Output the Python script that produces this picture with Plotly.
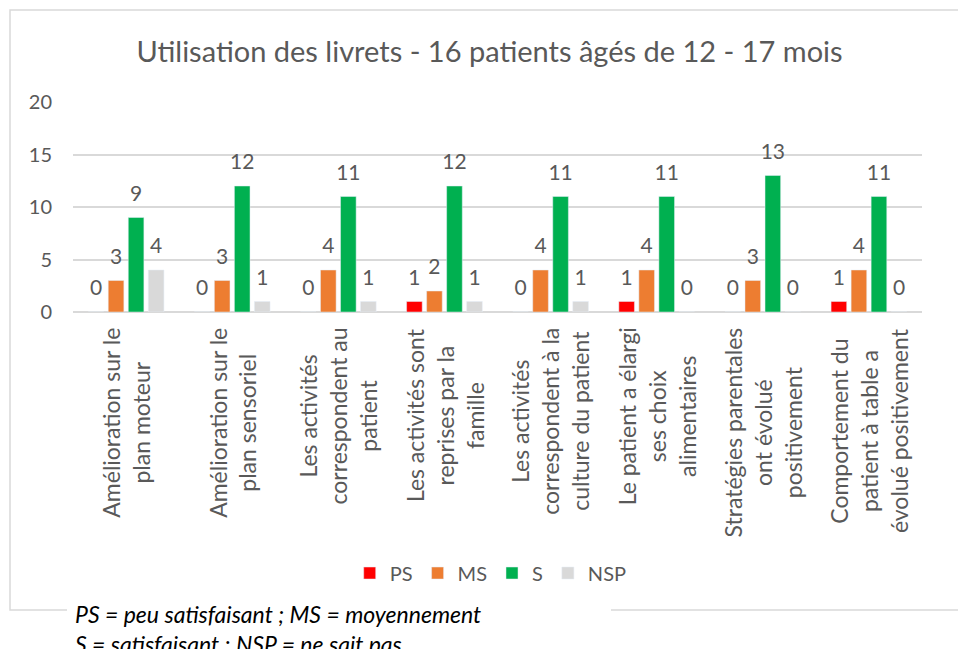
import plotly.graph_objects as go

categories = [
    "Amélioration sur le<br>plan moteur",
    "Amélioration sur le<br>plan sensoriel",
    "Les activités<br>correspondent au<br>patient",
    "Les activités sont<br>reprises par la<br>famille",
    "Les activités<br>correspondent à la<br>culture du patient",
    "Le patient a élargi<br>ses choix<br>alimentaires",
    "Stratégies parentales<br>ont évolué<br>positivement",
    "Comportement du<br>patient à table a<br>évolué positivement",
]
ps_values = [0, 0, 0, 1, 0, 1, 0, 1]
ms_values = [3, 3, 4, 2, 4, 4, 3, 4]
s_values = [9, 12, 11, 12, 11, 11, 13, 11]
nsp_values = [4, 1, 1, 1, 1, 0, 0, 0]
series_names = ["PS", "MS", "S", "NSP"]
series_colors = ["#FF0000", "#ED7D31", "#00B050", "#D9D9D9"]
y_ticks = [0, 5, 10, 15, 20]
title_text = "Utilisation des livrets - 16 patients âgés de 12 - 17 mois"
footnote = "<i>PS = peu satisfaisant ; MS = moyennement<br>S = satisfaisant ; NSP = ne sait pas</i>"

FONT = "Lato, 'Open Sans', sans-serif"
GREY = "#595959"

fig = go.Figure()
all_values = [ps_values, ms_values, s_values, nsp_values]
for i, (name, vals, col) in enumerate(zip(series_names, all_values, series_colors)):
    fig.add_trace(go.Bar(
        name=name, x=categories, y=vals, marker_color=col,
        offsetgroup=str(i), cliponaxis=False,
    ))
for i, (name, vals) in enumerate(zip(series_names, all_values)):
    fig.add_trace(go.Scatter(
        name=name + " labels", x=categories, y=vals, mode="markers+text",
        text=[str(v) for v in vals], textposition="top center",
        marker=dict(size=17, opacity=0, color="white"),
        textfont=dict(size=21, color=GREY, family=FONT),
        offsetgroup=str(i), showlegend=False, hoverinfo="skip", cliponaxis=False,
    ))

for c in categories:
    fig.add_annotation(
        x=c, xref="x", y=-0.065, yref="paper", text=c, textangle=-90,
        showarrow=False, yanchor="top", xanchor="center", align="center",
        font=dict(size=23, color=GREY, family=FONT),
    )

fig.add_shape(type="rect", xref="paper", yref="paper",
              x0=-0.0742, x1=1.2, y0=-1.419, y1=1.438,
              line=dict(color="#D9D9D9", width=1.5), fillcolor="rgba(0,0,0,0)", layer="below")
fig.add_shape(type="rect", xref="paper", yref="paper",
              x0=-0.0071, x1=0.6337, y0=-1.7, y1=-1.371,
              line=dict(width=0), fillcolor="white", layer="below")

fig.add_annotation(
    x=0, xref="paper", y=-1.36, yref="paper", text=footnote,
    showarrow=False, xanchor="left", yanchor="top", align="left",
    font=dict(size=23, color="#000000", family=FONT),
)

fig.update_layout(
    width=958, height=649,
    margin=dict(l=73, r=36, t=102, b=337, autoexpand=False),
    paper_bgcolor="white", plot_bgcolor="white",
    barmode="group", bargap=0.245, bargroupgap=0.22,
    scattermode="group", scattergap=0.245,
    title=dict(text=title_text, x=0.511, xanchor="center", y=0.92, yanchor="middle",
               font=dict(size=29, color=GREY, family=FONT)),
    font=dict(family=FONT, color=GREY),
    showlegend=True,
    legend=dict(orientation="h", x=0.492, xanchor="center", y=-1.243, yanchor="middle",
                font=dict(size=20, color=GREY, family=FONT), itemwidth=30,
                traceorder="normal"),
    xaxis=dict(showticklabels=False, showgrid=False, showline=False, ticks="", zeroline=False),
    yaxis=dict(range=[0, 20], tickvals=y_ticks, showgrid=True, gridcolor="#D9D9D9", gridwidth=1.5,
               zeroline=True, zerolinecolor="#D9D9D9", zerolinewidth=1.5, showline=False,
               ticks="outside", ticklen=16, tickcolor="rgba(0,0,0,0)",
               tickfont=dict(size=20, color=GREY, family=FONT)),
)

fig.write_html(
    "out.html",
    config={"displayModeBar": False},
    post_script="document.body.style.margin='0';document.documentElement.style.overflow='hidden';",
)
